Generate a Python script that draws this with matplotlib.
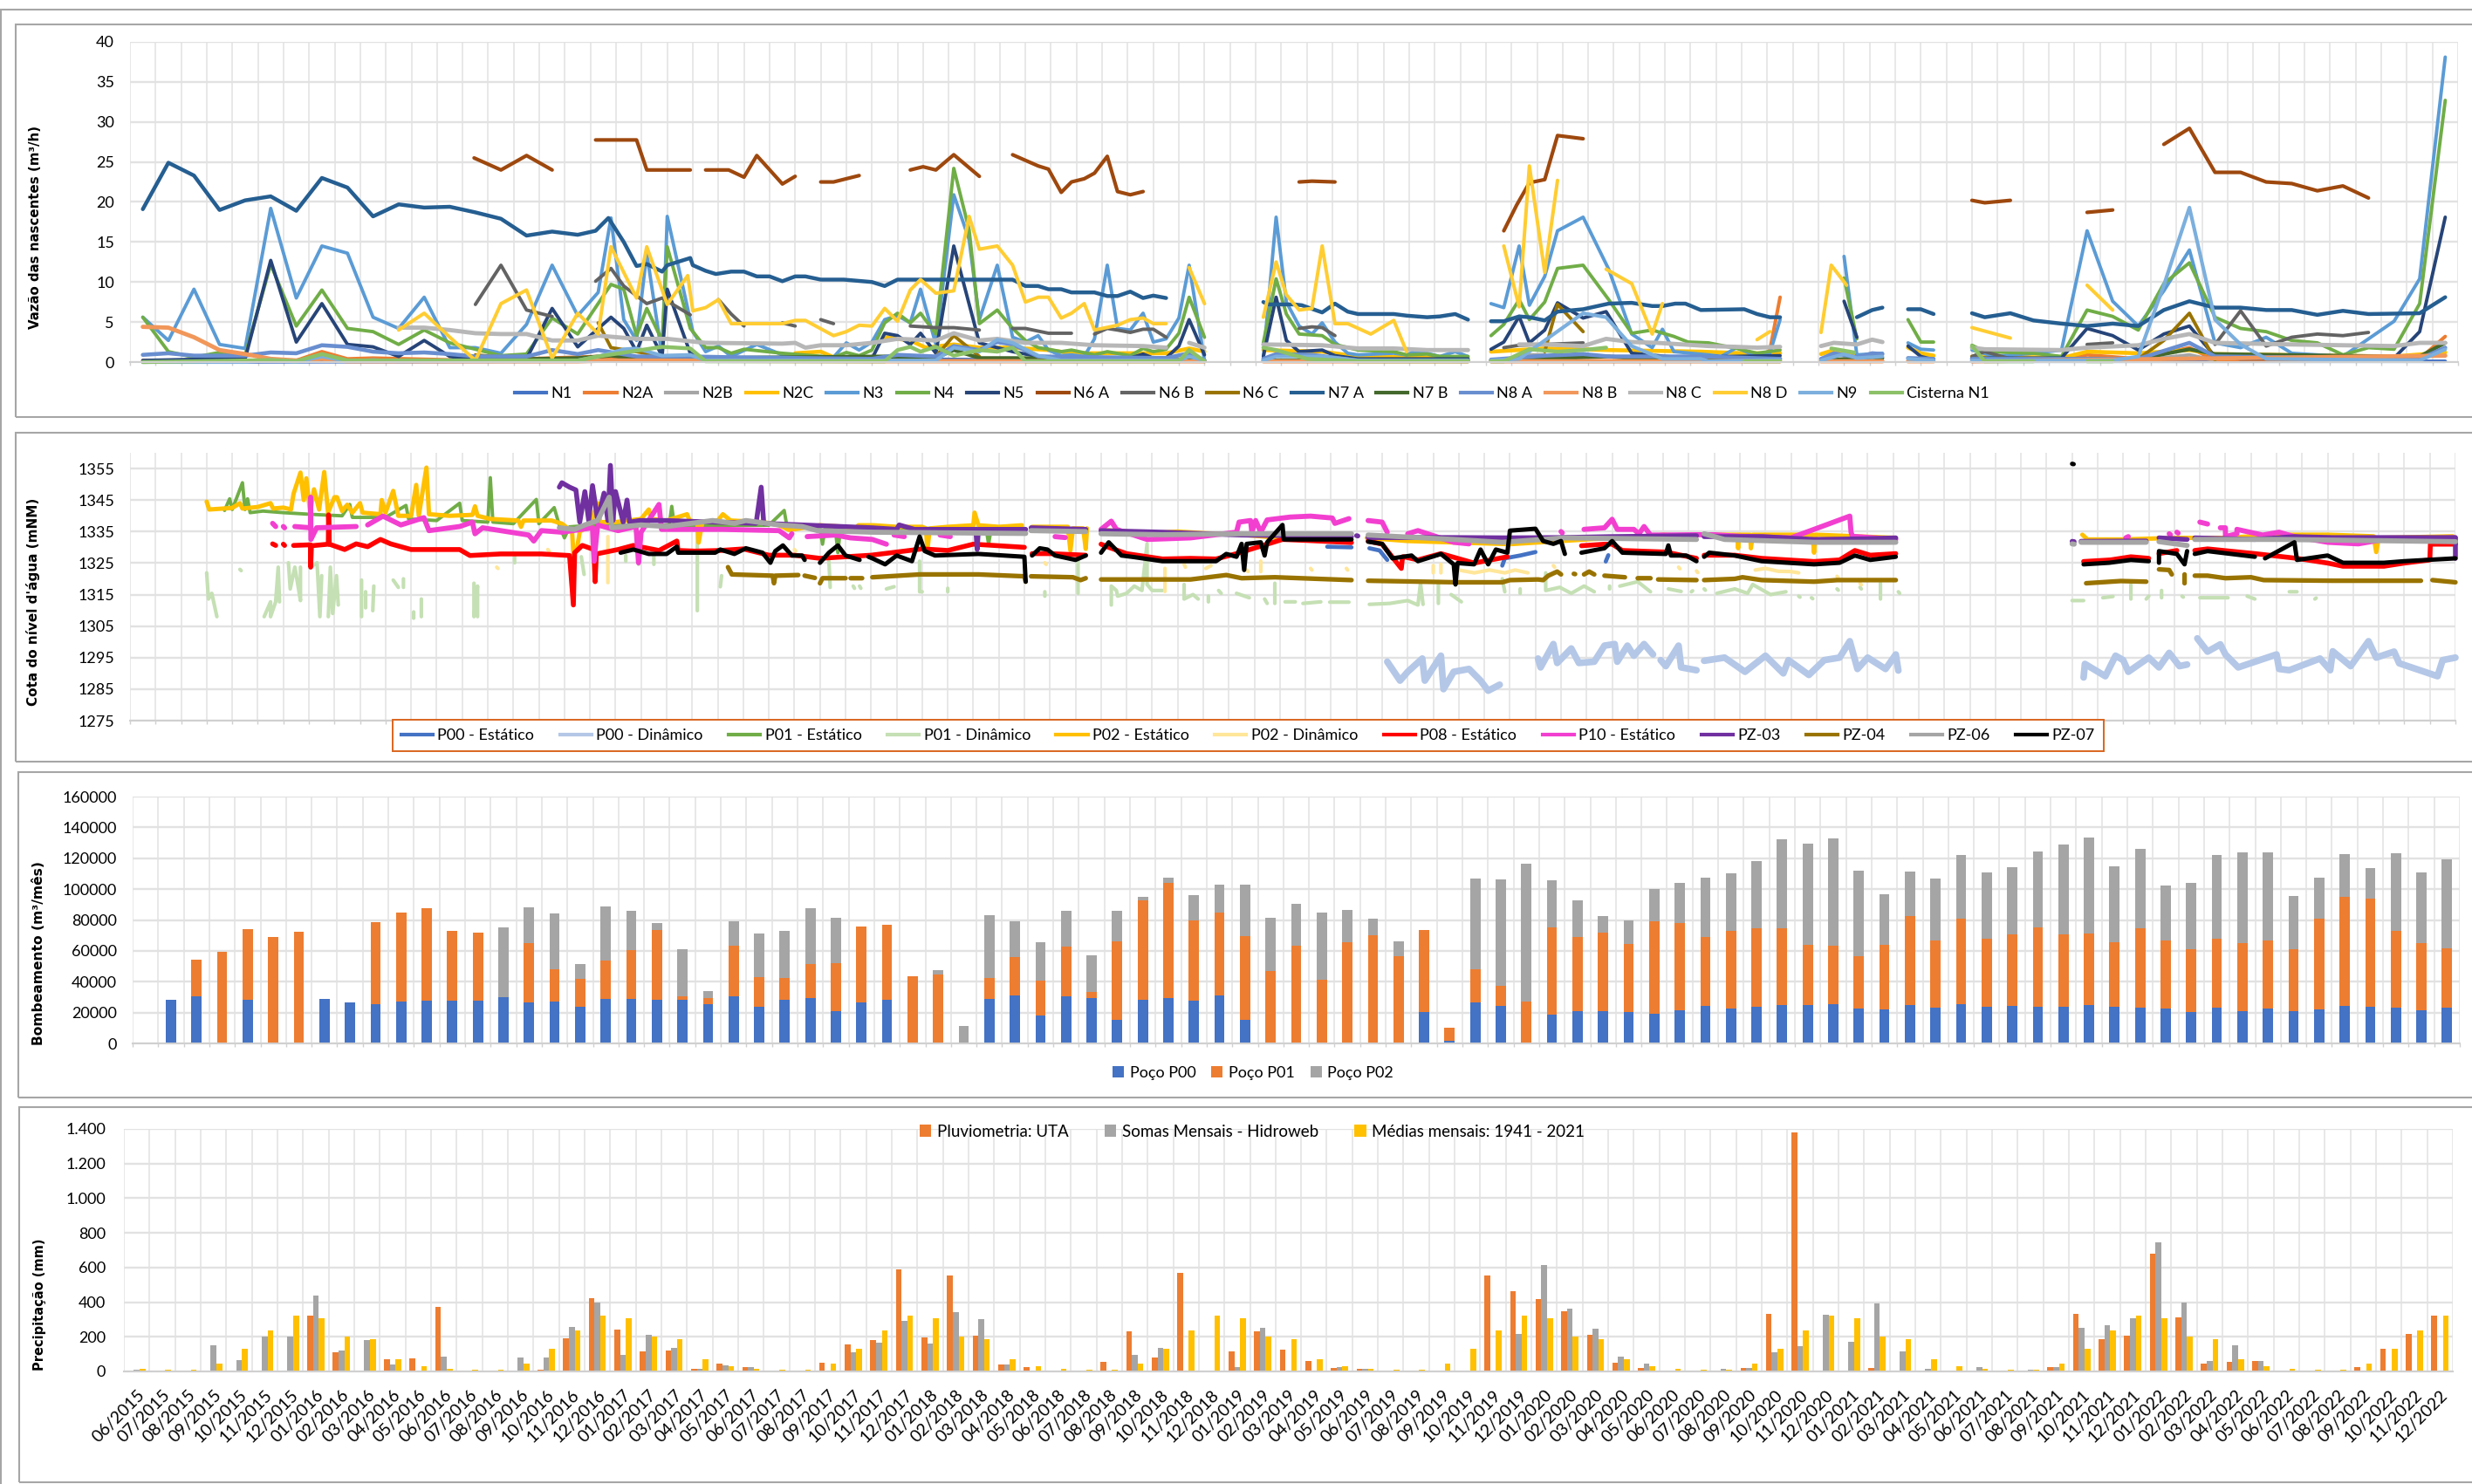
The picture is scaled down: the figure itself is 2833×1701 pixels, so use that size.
import numpy as np
import matplotlib
matplotlib.use("Agg")
import matplotlib.pyplot as plt
from matplotlib.patches import Rectangle
from matplotlib.lines import Line2D
from matplotlib.ticker import FuncFormatter

W, H = 2833, 1701
plt.rcParams['font.family'] = ['Lato', 'DejaVu Sans']

meses = []
for a in range(2015, 2023):
    for m in range(1, 13):
        if a > 2015 or m >= 6:
            meses.append(f"{m:02d}/{a}")

# ---- vazao das nascentes: x = mes (0 = 06/2015), None = falha
n7a_x = [0,1,2,3,4,5,6,7,8,9,10,11,12,13,14,15,16,17,17.7,18.2,18.8,19.3,19.7,20.3,20.5,21.4,21.5,22,22.4,23,23.5,24,24.5,25,25.5,25.9,26.5,27.4,28.5,29,29.5,34,34.5,35,35.4,35.9,36.3,37.2,37.7,38.1,38.6,39.1,39.5,40,None,43.8,44,45,45.3,46.1,46.6,47.1,47.5,48.9,49.4,50.2,50.7,51.3,51.8,None,52.7,53.2,53.8,54.2,54.8,55.3,56.3,57.3,58.2,59,59.4,59.9,60.3,60.9,62.6,63.1,63.6,64,None,67,67.6,68,None,69,69.5,70,None,71.5,72,73,73.9,75,76,77,78,79,80,81,82,83,84,85,86,87,89,90]
n7a_y = [19.1,24.9,23.3,19,20.2,20.7,18.9,23,21.8,18.2,19.7,19.3,19.4,18.7,17.9,15.8,16.3,15.9,16.4,18,15,12,12.25,11.3,12.1,13,12.1,11.4,11,11.3,11.3,10.7,10.7,10.1,10.7,10.7,10.3,10.3,10,9.5,10.3,10.3,9.5,9.5,9.1,9.1,8.7,8.7,8.25,8.25,8.8,8,8.3,8,None,7.5,7.2,7.2,7.1,6.2,7.3,6.3,6,6,5.8,5.6,5.7,6,5.3,None,5.1,5.1,5.7,5.6,5.2,6.3,6.6,7.3,7.4,7,7,7.3,7.3,6.5,6.6,6,5.6,5.6,None,5.6,6.5,6.8,None,6.6,6.6,6,None,6.1,5.6,6.1,5.2,4.8,4.5,4.8,4.5,6.5,7.6,6.8,6.8,6.5,6.5,5.9,6.4,6,6.1,8.1]

n6a_x = [12.95,14,15,16,None,17.7,19.3,19.7,21.4,None,22,22.9,23.5,24,25,25.5,None,26.5,27,28,None,30,30.5,31,31.7,32.7,None,34,35,35.4,35.9,36.3,36.8,37.2,37.7,38.1,38.6,39.1,None,45.2,45.7,46.6,None,53.2,53.7,54.2,54.8,55.3,56.3,None,71.5,72,73,None,76,77,None,79,80,81,82,83,84,85,86,87]
n6a_y = [25.5,24,25.8,24,None,27.75,27.75,24,24,None,24,24,23.1,25.8,22.25,23.2,None,22.5,22.5,23.3,None,24,24.4,24,25.9,23.2,None,25.9,24.5,24.1,21.2,22.5,22.9,23.6,25.7,21.3,20.9,21.3,None,22.5,22.6,22.5,None,16.4,19.6,22.4,22.8,28.3,27.9,None,20.2,19.9,20.2,None,18.7,19,None,27.2,29.2,23.7,23.7,22.5,22.3,21.4,22,20.5]

n3_x = [0,1,2,3,4,5,6,7,8,9,10,11,12,13,14,15,16,17,17.8,18.3,18.8,19.3,19.7,20.3,20.5,21.5,22,22.5,23,24,25,27,27.5,28,28.5,29,29.5,30,30.4,31,31.7,32.3,32.7,33.4,34,34.5,35,35.4,35.9,36.3,36.8,37.2,37.7,38.1,38.6,39.1,39.5,40,40.5,40.9,41.5,None,43.8,44.3,44.7,45.2,45.7,46.1,46.6,47.1,47.5,48.9,49.4,49.7,50.2,50.7,51.3,51.8,None,52.7,53.2,53.8,54.2,54.8,55.3,56.3,57.3,58.2,59,59.4,59.85,61.2,61.7,62.3,63.1,63.6,64,None,66.5,67,68,None,69,69.5,70,None,71.5,72.4,73.9,75,76,77,78,79,80,81,82,83,84,85,86,87,88,89,90]
n3_y = [5.6,2.7,9.1,2.2,1.7,19.2,8,14.5,13.6,5.6,4.2,8.1,1.8,1.8,1.1,4.7,12.1,5.8,8.7,18,5.3,2.7,13.6,.7,18.2,3.8,1.3,2,.7,2.2,.9,.6,2.4,1.5,2.5,5.3,5.8,4.9,9.1,2.2,20.9,15.3,5.3,12.1,3.1,2.5,3.3,1.5,.8,.9,.7,2.9,12.1,4.2,4,6.1,2.5,2.9,5.5,12.1,.2,None,.4,18.1,7.5,4.5,3.5,4.9,2.5,1.1,.9,1.1,.9,1.3,1.1,.7,1.3,.7,None,7.3,6.8,14.5,7.1,10.7,16.4,18.1,11.6,3.5,1.8,4.1,1.3,.9,.7,1.8,.7,1.1,5.3,None,13.2,.9,1.1,None,2.4,1.6,1.5,None,1.5,.7,1.1,1.5,16.4,7.6,4.5,8.9,14,2.4,1.8,3.1,1.1,.9,.7,2.9,5.1,10.4,38.1]

n4_x = [0,1,2,3,4,5,6,7,8,9,10,11,12,13,14,15,16,17,18.3,18.8,19.3,19.7,20.3,20.5,21.4,22,22.5,23,23.5,25,27,27.5,28,28.5,29,29.5,30,30.4,31,31.7,32.3,32.7,33.4,34,34.5,35,35.4,35.9,36.3,37.2,37.7,38.6,39.1,39.5,40,40.5,40.9,41.5,None,43.8,44.3,44.7,45.2,46.1,46.6,47.5,48.9,49.4,50.2,50.7,51.8,None,52.7,53.2,53.8,54.2,54.8,55.3,56.3,57.3,58.2,59,59.85,60.4,61.2,62.3,63.1,64,None,66.5,67,None,69,69.5,70,None,71.5,72,73.9,75,76,77,78,79,80,81,82,83,84,85,86,87,88,89,90]
n4_y = [5.6,1.3,.6,1.2,.9,12.2,4.5,9,4.2,3.8,2.2,4,2.4,1.6,.8,1,5.5,3.5,9.7,9.1,3.3,6.7,2.7,14.4,4.2,1.8,1.8,1.1,1.6,1.1,.6,1.2,.8,1.5,4.9,6.1,4.9,6.1,3.5,24.2,16.5,4.8,6.5,4.2,2.7,1.8,1.6,1.3,1.5,.9,1.3,.8,1.7,1.3,1.6,3.6,8.1,3.1,None,2.4,10.4,6,3.5,3.3,2.2,1.5,1.3,.9,1,.7,.7,None,3.3,4.7,7.8,5.3,7.5,11.7,12.1,7.8,3.6,4,3.2,2.5,2.4,1.7,1.1,1.5,None,10.5,2.9,None,5.3,2.5,2.5,None,2.1,1.3,1.1,.7,6.5,5.7,4,9.8,12.4,5.6,4.2,3.8,2.7,2.4,.9,1.8,1.6,7.3,32.7]

n5_x = [0,3,4,5,6,7,8,9,10,11,12,13,15,16,17,18.3,18.8,19.3,19.7,20.3,20.5,21.4,22,25,27,28,28.5,29,29.5,30,30.4,31,31.7,32.7,33.4,34,35,37.2,38.6,39.1,39.5,40,40.5,40.9,41.5,None,43.8,44.3,44.7,45.2,46.1,46.6,47.5,51.8,None,52.7,53.2,53.8,54.2,54.8,55.3,56.3,57.2,58.2,59.9,64,None,66.5,67,None,69,69.5,70,None,71.5,75,76,77,78,79,80,81,82,88,89,90]
n5_y = [.2,.4,.4,12.7,2.5,7.3,2.2,1.9,.7,2.7,.7,.3,.4,6.7,1.9,5.6,4.2,1.3,4.6,.7,9.1,1.1,.4,.5,.6,.4,.4,3.6,3.3,2.2,3.6,1.1,14.5,2.4,1.8,1.3,.7,.5,.5,1,.5,.5,2,5.3,.9,None,.7,8.1,2.7,1.3,1.5,.8,.4,.4,None,1.6,2.5,5.7,2.4,4,7.4,5.5,6.3,1.1,.6,.8,None,7.6,3.1,None,2,.7,.3,None,.5,.5,4.2,3.3,1.5,3.5,4.5,.7,.4,.5,3.8,18.1]

n8d_x = [10,11,12,13,14,15,16,17,17.8,18.3,19.3,19.7,20.5,21.3,21.5,22,22.5,23,25,25.5,25.9,27,27.5,28,28.5,29,29.5,30,30.4,31,31.7,32.3,32.7,33.4,34,34.5,35,35.4,35.9,36.3,36.8,37.2,38.1,38.6,39.1,39.5,40,None,40.9,41.5,None,43.8,44.3,44.7,45.2,45.7,46.1,46.6,47.1,48,48.9,49.4,None,53.2,53.8,54.2,54.8,55.3,None,57.2,58.2,59,59.4,None,63.1,63.6,None,65.6,66,66.6,None,71.5,73,None,76,77]
n8d_y = [4,6.1,3.1,.2,7.3,9,.5,6.1,3.5,14.4,8,14.4,7.2,10.8,6.4,6.8,7.8,4.8,4.8,5.2,5.2,3.3,3.8,4.6,4.5,6.7,5.1,9,10.3,8.6,8.9,18.2,14.1,14.5,12.1,7.5,8.1,8.1,5.5,6.1,7.3,4,4.6,5.3,5.5,4.8,4.8,None,11.8,7.3,None,5.6,12.5,8.4,6.5,6.7,14.5,4.8,4.8,3.5,5.2,1.3,None,14.5,6.9,24.5,11.2,22.7,None,11.6,9.8,3.5,7.3,None,2.8,3.8,None,3.7,12.1,9.6,None,4.3,3,None,9.6,6.5]

n6b_x = [13,14,15,16,None,17.7,18.3,18.8,19.7,20.3,21.4,None,22.5,23,23.5,None,25,25.5,None,26.5,27,None,30,31,31.7,32.7,None,34,34.5,35.4,36.3,None,37.2,37.7,38.1,38.6,39.1,39.5,40,None,45.2,45.7,46.1,46.6,None,53.2,53.8,54.8,56.3,None,71.5,72,73,None,76,77,None,81,82,83,84,85,86,87]
n6b_y = [7.2,12.1,6.5,5.7,None,10.1,11.7,9.5,7.3,8,5.9,None,7.8,6,4.5,None,4.9,4.5,None,5.3,4.8,None,4.5,4.3,4.3,4,None,4.2,4.2,3.6,3.6,None,3.5,4.2,4,3.7,4.1,4.1,3.1,None,4.2,4.4,4.3,3.3,None,1.8,2.1,2.2,2.4,None,.7,1.3,.4,None,2.2,2.4,None,2.2,6.4,2,3.1,3.5,3.3,3.7]

n8c_x = [10,11,12,13,14,15,16,17,17.8,19.3,20.5,22,25,25.5,25.9,26.5,27.5,28.5,29.5,31,31.7,32.7,33.4,34.5,35.9,37.2,39.1,40,None,40.9,41.5,None,43.8,46.1,47.5,48.9,50.2,51.8,None,53.8,54.8,56.3,57.2,58.2,59.2,61.2,62.3,63.1,64,None,65.6,66.1,67,67.6,68,None,71.5,72,75,76,78,79,80,81,84,86,88,89,90]
n8c_y = [4.3,4.3,4,3.6,3.5,3.5,2.7,2.7,3.3,2.9,2.9,2.4,2.3,2.4,1.8,2.1,2.1,2.4,2.9,2.7,3.6,2.7,2.9,2.4,2.4,2.1,2,1.8,None,2.4,1.8,None,2.2,2.1,1.7,1.7,1.5,1.5,None,2.2,2.2,2,2.9,2.5,2.4,2,1.9,1.8,1.9,None,2,2.4,2.2,2.8,2.5,None,1.8,1.6,1.5,1.8,2.1,2.9,3.5,2.4,2.2,2.1,2,2.4,2.4]

n8a_x = [0,1,2,4,5,6,7,8,9,10,11,12,13,15,16,17,17.8,19.3,21.4,23,28.5,29.5,31,31.7,32.7,33.4,34,35,40,40.9,41.5,None,43.8,44.3,45.7,47.5,51.8,None,52.7,54.8,56.3,57.3,60.9,64,None,65.6,66.1,67,67.6,68,None,69,70,None,71.5,78,80,81,89,90]
n8a_y = [.9,1.1,.8,.8,1.2,1.1,2.1,1.9,1.3,1.1,1.2,1,.7,.7,1.5,1,1.5,.7,.7,.6,.4,.9,.7,2,1.5,2.5,2.2,.7,.5,1.1,.2,None,.4,1,.9,.2,.2,None,.3,.8,1,.7,.7,.4,None,.4,1.1,.6,1.1,1,None,.5,.4,None,.4,.4,2.4,.7,.4,1.8]

n7b_x = [13,17,18.3,19.3,21.4,29,31,31.7,32.7,34,40,41.5,None,43.8,51.8,None,52.7,55.4,57.3,59,64,None,65.6,67.6,68,None,71.5,78,80,81,88,89,90]
n7b_y = [.25,.5,.8,.4,.5,.7,.5,1.5,.5,.5,.3,.2,None,.2,.25,None,.25,.5,.7,.3,.4,None,.2,.6,.5,None,.4,.4,1.6,1,.7,.7,2.4]

n6c_x = [13,14,None,17.8,18.3,19.3,20.3,None,31,31.7,32.7,None,54.8,55.3,56.3,None,78,79,80,81]
n6c_y = [.9,.6,None,4.9,1.8,1.3,.7,None,.7,3.3,.7,None,1.3,7.2,3.8,None,.4,2.7,6.1,.25]

n2a_x = [0,6,7,8,9,13,17.8,19.3,41.5,None,43.8,51.8,None,52.7,63.1,63.6,64,None,71.5,75,76,78,80,81,89,90]
n2a_y = [.2,.2,1.3,.4,.5,.2,.7,.2,.1,None,.1,.1,None,.1,.2,1.5,8.1,None,.1,.2,.9,.4,1.8,.25,.4,3.2]

n8b_x = [0,1,2,3,4,5,6,7,8,17,18.3,28.5,41.5,None,43.8,51.8,None,52.7,64,None,65.6,68,None,69,70,None,71.5,90]
n8b_y = [4.4,4.3,3.1,1.5,1,.4,.2,.4,.1,.1,.2,.1,.1,None,.1,.1,None,.1,.1,None,.1,.1,None,.1,.1,None,.1,.8]

n9_x = [0,4,5,6,7,8,9,10,17,17.8,18.8,19.3,20.3,21.4,22,28.5,31,31.7,32.7,33.4,34,35,35.9,40.5,40.9,41.5,None,43.8,44.3,46.1,47.5,51.8,None,52.7,53.8,54.8,56.3,57.2,58.2,59.4,60.9,61.2,64,None,65.6,66.5,67,68,None,69,70,None,71.5,77,78,79,80,81,82,83,89,90]
n9_y = [0,0,.25,0,.7,.1,.25,.1,.2,.7,1.6,1.7,.8,.9,.2,.2,.2,1.8,1.3,2.8,2.4,.8,.2,.2,.7,.2,None,.2,.7,.7,.2,.2,None,.2,.4,2.7,6.1,5.6,2,.4,.4,.1,.25,None,.2,1,.5,.7,None,.4,.2,None,.2,.2,.7,9.6,19.3,5.3,2.2,.4,.2,1.6]

cisterna_x = [0,5,6,7,8,17,17.8,20.3,21.4,22,29,29.5,30,30.4,31,31.7,32.7,33.4,34,34.5,40.5,40.9,41.5,None,43.8,44.3,45.5,47.5,51.8,None,52.7,53.2,54.2,55.3,56.3,57.2,None,62.6,64,None,66,66.9,None,71.5,72,73.9,None,76,77]
cisterna_y = [0,.25,.1,1,.2,.2,.7,1.9,1.7,.1,.1,1.5,1.9,1.3,1.9,.8,1.5,1.3,1.8,.1,.1,1.5,.1,None,1.8,1.5,.4,.1,.1,None,.1,.1,1.6,1.3,1.5,1.8,None,.1,.1,None,1.7,1.2,None,2,.1,.1,None,.1,.1]

n2b_x = [53.2,53.8,54.8,None,78,80,81]
n2b_y = [.1,.9,.9,None,.2,.9,.2]

n1_x = [0,17,22,28.5,41.5,None,43.8,51.8,None,52.7,64,None,71.5,90]
n1_y = [0,.1,.2,.4,.1,None,.2,.1,None,.1,.1,None,.1,.1]

n2c_x = [25.5,26.5,27,None,29,30,30.6,31.7,32.7,34,35.4,36.3,40,40.9,41.5,None,43.8,46.1,47.5,51.8,None,52.7,54.8,57.3,60.9,62.6,64,None,65.6,66.1,67,None,69,69.5,70,None,71.5,73.9,75,76,78,80,81,88,90]
n2c_y = [1.1,1.3,.6,None,3.1,2.7,1.8,2.2,1.8,1.8,1.5,1.1,1.1,1.7,1.3,None,1.5,1.3,.7,.5,None,1.3,1.7,1.5,1.3,1.1,1.1,None,1,1.5,.9,None,1.8,1.1,.8,None,.7,.6,.5,1.3,1.1,1.5,1,.7,1.2]

# ---- cota do nivel d'agua: x = meses desde a borda esquerda do eixo
p02e_x = [3,3.1,4,4.3,4.4,5,5.5,5.6,6,6.3,6.4,6.67,6.8,6.9,7.05,7.2,7.4,7.6,7.75,8,8.1,8.3,8.5,8.7,9,9.1,9.8,9.85,10,10.3,10.5,11,11.2,11.3,11.6,11.7,12.5,13.4,13.5,13.6,14.1,15.2,15.3,15.4,16.5,16.9,17.3,17.35,17.5,17.6,18,18.3,18.4,19,20,20.3,20.4,21,21.8,21.9,22.2,22.25,22.4,23,23.2,23.5,24.8,25.4,25.8,27,28,28.3,28.5,29.1,30,31,31.15,31.2,31.3,32,33,33.05,33.2,34,34.9,None,35.3,36.7,36.8,36.9,37.3,37.4,37.45,None,38,40,41,42,43.5,45,46,47.8,None,48.4,50,52,54,56,58,59,60,61,None,61.9,62.9,62.93,62.96,63.4,63.43,63.5,65.85,65.9,65.95,69.1,None,76.4,76.6,78,80,82,84,86,87.8,87.9,88,90.9]
p02e_y = [1344.5,1342,1342.5,1344,1342.3,1342.8,1344,1342.3,1342.6,1342,1347,1353.7,1345,1351.9,1341,1348.4,1342,1353.9,1341,1345.9,1345.9,1341.5,1343.5,1341,1344,1341,1340.5,1345,1341,1347.9,1340,1340,1349.8,1340,1355.3,1340.5,1340,1340.3,1343,1340,1339,1338.5,1336.5,1338.5,1338.5,1337.5,1335,1328,1330,1335,1337,1344,1338,1338,1339,1342,1339,1338.5,1340.5,1338.5,1338,1331.5,1338,1338.5,1340.5,1338.5,1338,1337,1335.5,1337,1336.5,1335,1337,1337,1336.5,1336.5,1336,1329,1336,1336.5,1337,1341,1337,1336.5,1337,None,1336.5,1336.5,1329,1336,1336,1329.5,1336,None,1335.5,1334.5,1335,1334.5,1334,1333,1332.5,1332.5,None,1333,1332,1331.5,1331,1332,1333,1333,1334,1333.5,None,1334,1334,1329.7,1334,1334,1329.7,1334,1334,1328.3,1334,1333,None,1334,1332.5,1332.5,1333,1333,1334,1334,1333.5,1328.5,1333,1333.5]

p00d_x = [49.2,49.7,50,50.57,50.67,51.3,51.4,51.8,52.4,52.85,53.15,53.6,None,55.1,55.2,55.7,55.85,56.4,56.7,57.3,57.7,58.1,58.2,58.6,58.85,59.25,59.6,None,59.9,60.1,60.6,60.7,61.3,None,61.6,62.4,63.2,64,64.7,64.9,65.7,66.3,66.9,67.3,67.6,68,68.7,69.1,69.2,None,76.45,76.5,77.3,77.7,78,78.2,79,79.4,79.8,80.2,80.5,None,80.9,81.3,81.8,82,82.5,84,84.1,84.5,85.7,86.1,86.2,86.9,87.6,87.9,88.6,88.8,90.3,90.5,91]
p00d_y = [1293.7,1287.7,1290.5,1294.7,1287.7,1295.6,1285,1290.5,1291.4,1287.7,1284.5,1286.4,None,1294.7,1291.9,1299.3,1293.3,1297.9,1293.3,1293.7,1298.8,1299.3,1293.7,1298.8,1295.6,1299.3,1296,None,1294.2,1292.3,1298.8,1291.9,1291,None,1294,1295,1290.5,1295.6,1290,1294.2,1289.5,1294.2,1295,1300.2,1291.4,1295,1291.4,1296,1290.9,None,1288.7,1293,1289.1,1295.6,1294.2,1290.5,1295,1291.9,1296.5,1292.3,1292.8,None,1301.1,1296.9,1299.2,1296,1291.9,1296,1291.4,1291,1294.7,1291,1297,1292.3,1300.2,1295,1296.9,1293.2,1289.1,1294.2,1295]

p01e_x = [3.7,3.9,4,4.4,4.5,4.6,4.7,5.2,6,7,8.3,8.6,8.7,10,10.8,10.9,12,12.9,13,14,14.1,14.2,15,15.9,16,16.6,16.8,17,17.2,18,20,21.1,21.2,21.3,23,25,25.6,25.7,26,27,27.1,27.2,27.6,27.7,27.8,29,33.5,33.6,33.7,35]
p01e_y = [1341.7,1345.4,1342,1350.5,1342,1345.4,1341,1341.5,1341,1340.5,1340,1343.6,1339.5,1339.5,1343.3,1339,1338.5,1344,1338.5,1338,1352.1,1338,1337.5,1345.2,1337.5,1342.6,1337,1333,1336.5,1337,1337,1337,1343,1337,1337,1337,1341.7,1337,1336.5,1336,1331,1336,1336,1328.3,1336,1336,1336,1331,1336,1336]

p01d_x = [3,3.07,3.2,3.4,None,4.3,4.35,None,5.25,5.4,5.5,5.5,5.7,5.8,5.85,None,6.2,6.27,6.45,6.55,6.67,6.67,None,7.06,7.32,7.43,7.5,None,7.76,7.84,7.93,8.08,8.15,None,9.06,9.06,None,9.22,9.22,None,9.54,9.5,None,10.3,10.5,None,10.7,10.7,None,11.1,11.1,None,11.4,11.4,None,13.46,13.46,13.6,13.6,None,15.05,15.05,None,17.66,17.77,None,19.4,19.4,None,19.9,19.9,None,20.5,20.5,None,22.2,22.2,None,23.15,23.1,None,27.35,27.4,None,28.3,28.35,None,28.55,28.6,None,29.6,29.9,None,30.9,30.9,31,None,32,32,None,35.8,35.8,None,37.1,37.1,None,38.4,38.4,38.6,38.65,39,39.3,39.6,39.8,39.8,40,40.4,None,41.25,41.25,41.6,41.8,None,42.2,42.2,None,42.6,42.7,None,43.3,43.8,None,44.4,44.5,None,44.8,44.8,None,45.2,45.6,None,45.9,46.6,None,46.95,47.7,None,48.5,49.3,50,50.4,50.5,50.6,None,51.2,51.2,None,51.7,52.1,None,53.7,53.8,None,54.4,54.4,None,55.4,55.4,55.95,56.4,56.9,57.3,None,57.9,57.9,None,58.3,59,59.5,None,60.2,60.7,None,61.1,61.15,None,61.6,61.65,None,62.1,62.8,63.3,63.5,64.2,64.8,None,65.3,65.35,None,65.8,65.85,None,66.8,66.85,None,67.7,67.75,None,68.5,68.5,None,69.2,69.25,None,76,76.45,None,77.2,77.6,None,78.3,78.3,None,78.9,79,None,79.5,79.5,None,80.3,80.35,None,81,82.1,None,82.85,83.15,None,84.5,84.8,None,85.5,85.55]
p01d_y = [1321.9,1313.6,1315.4,1308,None,1323,1322.6,None,1308,1310.8,1312.7,1308,1312.7,1323.7,1312.7,None,1325.1,1316.8,1323.7,1319,1313.1,1323.7,None,1323.7,1325.1,1308,1321,None,1308,1323.7,1309,1321,1311.7,None,1319.6,1308,None,1315.9,1310.8,None,1317.7,1309.9,None,1319.6,1317.3,None,1320,1317.3,None,1309.5,1307.5,None,1313.6,1308,None,1318.6,1308,1317.7,1308,None,1327.4,1325.1,None,1327,1321.4,None,1327.4,1325.6,None,1333.9,1324.6,None,1327.4,1324.6,None,1334.8,1309.9,None,1321,1317.5,None,1325.6,1317.3,None,1317.7,1317,None,1317.7,1317,None,1316.8,1317.5,None,1325.6,1315.9,1315.9,None,1317,1315.9,None,1315.9,1314.5,None,1327.4,1315.4,None,1311.7,1317.7,1316.3,1314.5,1315.4,1317.7,1316.3,1331.1,1318.2,1316.3,1316.3,None,1318.2,1313.6,1315,1313.6,None,1314.5,1312.7,None,1316.3,1315.4,None,1315.4,1314,None,1313.6,1312.2,None,1318.6,1312.2,None,1312.7,1312.7,None,1312.2,1312.7,None,1312.6,1312.6,None,1311.9,1312.2,1313.1,1311.7,1318.6,1311.9,None,1319.1,1312.2,None,1315,1312.7,None,1320,1315.9,None,1316.8,1315.4,None,1321.9,1316.3,1317.3,1315.4,1317.7,1315.9,None,1317.7,1316.8,None,1317.7,1319.1,1315.9,None,1316.8,1316,None,1315.9,1316.2,None,1316.8,1316.4,None,1315.4,1316.8,1315.4,1318.2,1315,1315.9,None,1314.5,1314.2,None,1314,1313.7,None,1316.8,1316.4,None,1317.3,1316.8,None,1318.6,1313.6,None,1315.9,1315.4,None,1313.1,1313.1,None,1314,1314.4,None,1318.2,1313.6,None,1313.6,1314.5,None,1316.3,1314,None,1314.5,1314.2,None,1314,1314,None,1314.5,1313.6,None,1315.9,1315.9,None,1313.6,1313.9]

p02d_x = [14.35,14.4,None,16.35,16.4,None,18.7,18.7,None,26,26.05,None,35.8,35.85,None,40.5,40.5,None,41.25,41.3,None,42.1,42.3,None,43.7,43.75,None,44.25,44.25,None,46.2,46.25,None,47.6,47.65,None,51,51,None,51.3,51.3,None,52,52.6,53.2,53.8,54.2,54.7,None,55.7,55.75,None,60.6,60.65,None,61.3,61.35,None,63.6,64,64.5,65,65.3,None,66.8,66.85,None,67.7,67.75]
p02d_y = [1323.7,1323.3,None,1329.3,1328.8,None,1333.4,1318.8,None,1329.3,1328.8,None,1325.1,1324.6,None,1323.3,1316,None,1324.6,1323.7,None,1323.3,1324.2,None,1322.8,1322.3,None,1325.6,1322.3,None,1323.3,1322.8,None,1323.3,1322.8,None,1324.2,1321.9,None,1324.6,1321.9,None,1322.8,1321.9,1322.8,1321.9,1322.8,1321.9,None,1324.2,1323.7,None,1323.7,1323.2,None,1322.5,1322,None,1322.8,1323.3,1322.4,1322.3,1321.9,None,1320.8,1320.3,None,1318.6,1318.1]

p08_x = [5.58,5.7,None,6,6.05,None,6.4,7.06,7.07,7.1,7.76,7.77,7.8,8.4,8.85,9.3,9.8,10.2,11,12.9,13.3,14.5,16.1,17.2,17.35,17.4,17.7,18.15,18.2,18.25,19.1,19.7,20.7,21.4,21.45,22.1,23.1,24,25,26,27,28,29,30,31,32,33,34,35,None,35.3,36,37.4,None,38,38.3,39,40.4,41.5,42.5,43.3,44.5,45.1,46,47.8,None,48.45,49,49.75,49.8,49.85,50.4,51.3,52.6,53.9,None,56.8,57.7,58,58.4,60.1,61.3,None,61.6,62.8,63.85,65.9,66.9,67.5,68.1,69.1,None,76.45,77.5,78.3,79,None,79.4,80.1,None,80.8,81.3,83.15,84.8,86,86.6,88.2,89,90,90.02,91]
p08_y = [1331.1,1330.6,None,1331,1330.6,None,1330.6,1330.8,1323.7,1330.5,1331,1340.3,1331,1329.3,1331.1,1330.2,1332.5,1331.1,1329.3,1329.3,1327.4,1327.9,1327.9,1327.4,1311.7,1328.3,1330.6,1329.3,1319.1,1327.9,1329.3,1330.6,1329,1332,1329,1328.8,1329,1329.5,1327.5,1327.5,1326.5,1327,1327.5,1328.5,1329.5,1329,1331,1330.5,1330,None,1328,1328,1327.5,None,1331,1330,1328,1326.3,1326.5,1326.3,1328,1331,1332.5,1332.2,1331.5,None,1332,1331,1323.3,1327,1327,1326,1328,1325,1327,None,1330.5,1331,1331,1329,1328.5,1326.5,None,1327.5,1327.5,1326.5,1325.5,1326,1329,1327.5,1328,None,1325.5,1326,1327,1326.5,None,1328,1329,None,1329,1329.5,1328,1326.5,1325,1324,1324,1325,1326,1331,1331]

p10_x = [5.58,5.7,None,6,6.05,None,6.45,7.06,7.07,7.08,7.3,8.85,None,9.3,9.9,10.6,11.5,11.7,12.9,13.4,13.5,13.8,15.6,15.8,16.1,16.9,18.1,18.16,18.3,19.1,19.8,19.9,20,20.7,20.8,23.2,25.4,25.8,25.9,None,26.5,27.6,28.2,29.05,29.6,None,29.9,30.3,None,31.7,32.1,None,36.2,36.6,None,38,38.4,38.6,39.8,41.5,43.3,43.4,43.85,43.9,44.05,44.25,44.5,45.4,46.2,47.05,47.15,47.7,None,48.45,49,49.2,None,50,50.4,51.8,52.4,None,56,56.05,None,56.9,57.7,58,58.2,58.85,59.05,59.25,59.5,60.1,61.3,62,63,65,67.3,67.35,67.4,69.1,None,78.1,78.2,None,79.8,79.85,None,80.1,80.15,None,81,81.3,None,81.8,82,82,82.45,82.45,83.46,84.1,84.7,86,87.2,88.2,91]
p10_y = [1337.6,1336.6,None,1336.6,1336.2,None,1336.6,1336.2,1345.9,1332.5,1336.2,1336.6,None,1337.1,1339.9,1337.1,1339.4,1335.3,1336.6,1338,1334.3,1336.2,1333.9,1332,1335.3,1334.8,1336.2,1325.6,1337.1,1335.3,1336.6,1325.1,1334.8,1343.6,1335.7,1335.7,1335.3,1333,1334.3,None,1333.4,1333.9,1333,1332.5,1331,None,1333.9,1333.4,None,1333.9,1333.4,None,1333.4,1333.1,None,1335.7,1338.3,1335.7,1332.5,1333,1334.8,1338,1338.5,1334.8,1338.5,1334.8,1338.7,1339.6,1339.9,1339.3,1337.6,1339.1,None,1338.5,1338,1334.8,None,1334.3,1335.3,1331.6,1331.1,None,1335,1334.6,None,1335.7,1336.2,1338.9,1335.7,1335.7,1334.3,1336.6,1333.9,1333.9,1334,1334,1333.5,1333,1339.9,1334.8,1333.5,1332.5,None,1333,1333.4,None,1334.3,1334,None,1334.8,1334.5,None,1338,1337.4,None,1336.2,1336.2,1333.4,1334.3,1335.7,1333.9,1334.8,1333.4,1331.6,1331.1,1332.5,1333]

pz03_x = [16.8,16.9,17.2,17.45,17.6,17.8,17.95,18.1,18.3,18.55,18.7,18.8,18.9,19,19.3,19.45,19.55,19.95,21,22.8,24.5,24.7,24.8,26.3,29.05,30,30.1,30.7,33.1,33.15,33.2,35.05,None,35.26,37.4,None,38,40.4,43.5,45.6,47.8,None,48,48.05,None,48.45,49.7,51.8,53.9,56,58,61.3,None,61.6,63.9,65.9,67.9,69.1,None,76,76.08,None,76.35,78.9,None,79.4,80.5,None,80.8,83.15,84.7,86.2,89.65,91,91]
pz03_y = [1349.1,1350.5,1349.1,1348.2,1338,1347.7,1338.5,1349.6,1338.5,1347.2,1338.5,1356,1338.5,1347.7,1338,1345,1338,1338.5,1338.5,1338,1337.6,1349.1,1337.6,1337.1,1336.2,1335.7,1337.1,1335.7,1335.7,1329.3,1335.7,1335.7,None,1336.2,1335.7,None,1335.3,1334.8,1333.9,1333.7,1333.4,None,1333.7,1333.6,None,1333.1,1333.1,1333.1,1333,1333.1,1333.4,1333.7,None,1333.4,1333.4,1332.5,1332.7,1333,None,1331.9,1331.8,None,1331.9,1332,None,1333,1332.5,None,1333,1332.5,1333.4,1333.1,1333.1,1333.1,1326.5]

pz06_x = [16.8,17.4,17.8,18.3,18.75,18.85,20,21,22.8,23.65,24.1,25.4,26.3,26.9,29.05,35.05,None,35.26,37.4,None,38,40.4,43.5,47.8,None,48.45,51.8,53.7,56.15,61.3,None,61.6,62.4,65.9,69.1,None,76,76.08,None,76.35,78.9,None,79.4,80.5,None,80.8,84.2,91]
pz06_y = [1336.2,1335.7,1337.1,1338.5,1345.9,1336.2,1337.1,1336.6,1338.5,1337.6,1338.5,1337.1,1336.6,1335.3,1334.8,1334.4,None,1335.3,1335,None,1334.3,1334,1334.3,1334.3,None,1333.9,1332.5,1331.6,1333,1332.5,None,1334.3,1332.5,1331.6,1331.6,None,1331.1,1331,None,1331.6,1331.6,None,1331.8,1330.6,None,1332.5,1332.5,1331.8]

pz04_x = [23.4,23.55,25.15,25.2,25.25,26.15,None,26.4,26.8,None,27,27.1,28,None,28.2,28.65,None,29.05,30.1,30.9,33.2,35,35.05,None,35.26,36.9,37.2,37.4,None,38,41.5,42.9,43.5,44.8,47.8,None,48.45,51.9,53.7,54,55.1,55.3,55.5,55.85,56,None,56.5,56.55,None,56.9,57.1,57.3,None,57.7,58.5,None,59,59.5,None,59.8,61.3,None,61.6,62.8,63.1,63.85,65.9,66.8,69.1,None,76.55,77.9,78.9,None,79.4,79.8,79.9,None,80.4,80.4,None,80.8,81.3,82,83,83.5,86.2,89.65,None,90.1,91]
pz04_y = [1323.7,1321.4,1321,1318.6,1321,1321.2,None,1321,1320.3,None,1318.6,1320.2,1320.2,None,1320.2,1320.2,None,1320.5,1321,1321.4,1321.4,1320.8,1319.1,None,1320.8,1320.5,1319.6,1320.2,None,1319.8,1319.8,1321.2,1320.2,1320.5,1319.6,None,1319.4,1318.9,1318.9,1319.6,1319.8,1319.6,1321,1322.3,1321.4,None,1321.6,1321.5,None,1321.4,1322.3,1321.4,None,1321,1320.5,None,1320.2,1320.2,None,1319.8,1319.6,None,1319.6,1320,1320.5,1319.6,1319.1,1319.6,1319.6,None,1318.6,1319.3,1319.1,None,1323,1322.8,1321.4,None,1321.4,1318.6,None,1321,1321,1320.2,1320.5,1319.6,1319.4,1319.4,None,1319.6,1318.9]

pz07_x = [19.2,19.7,20.3,21,21.4,21.45,22.9,23.1,23.65,24.1,24.75,25.06,25.25,25.55,25.9,26.3,26.4,None,27,27.35,27.7,28,28.55,None,28.9,29.05,29.55,30,30.6,30.9,31.1,31.5,33.2,35,35.05,None,35.3,35.6,35.9,36.2,37,37.4,None,38,38.3,38.8,39.2,40.4,42.5,42.9,43.3,43.5,43.6,43.7,44.25,44.4,44.5,45.1,45.15,47.8,None,48.45,49,49.4,50.15,50.4,51.3,51.8,51.87,51.95,52.6,52.85,53.15,53.45,53.9,54,55,55.3,55.7,56,56.15,None,56.8,57.7,58,58.4,60.1,60.2,60.3,60.9,61.3,None,61.6,61.8,62.8,63.85,65.9,66.9,67.5,68.1,69.1,None,76,76.06,None,76.45,77.45,78.3,79,None,79.4,79.4,80.1,80.4,80.5,None,80.8,81.3,83.15,None,83.55,84.7,84.8,86,86.6,88.2,89,91]
pz07_y = [1328.3,1329.3,1327.9,1327.9,1330.2,1328.3,1328.3,1329.3,1327.9,1329.7,1328.3,1325.1,1328.8,1330.6,1327.4,1327.4,1326,None,1325.1,1328.3,1330.6,1327.4,1326,None,1327,1326.5,1324.6,1327.4,1325.6,1333.4,1328.8,1327.4,1327.9,1327,1319.1,None,1327.4,1329.7,1329.3,1327.4,1326,1327.4,None,1328.3,1331.6,1327.4,1327,1325.6,1325.6,1327.9,1327,1331.1,1322.8,1331.1,1331.6,1327.4,1331.6,1337.1,1332.5,1332.5,None,1331.8,1331.1,1326.5,1327.4,1325.6,1327.9,1324.6,1318.2,1325,1324.6,1329.3,1324.6,1329.3,1328.3,1335.3,1335.9,1332,1331.1,1332,1327.9,None,1328.3,1329.7,1332,1328.3,1327.9,1330.6,1327.4,1327.4,1325.6,None,1327,1328.3,1327.4,1325.6,1324.6,1325.1,1327.4,1326,1327,None,1356.5,1356.4,None,1324.6,1325.1,1326,1325.6,None,1325.1,1328.8,1327.9,1324.6,1328.8,None,1327.9,1328.8,1327,None,1326.5,1331.6,1326,1327.4,1325.1,1325.1,1325.6,1326.5]

p00e_x = [46.85,47.8,None,48.5,48.9,49.2,None,53.7,53.8,54.4,55,None,57.75,57.85]
p00e_y = [1330.2,1330,None,1329.7,1329,1326,None,1324.2,1326.5,1327.4,1328.5,None,1325.5,1327.5]

# ---- bombeamento (m3/mes), de 06/2015 a 12/2022
poco_p00 = [0,28160,30430,0,28160,0,0,28920,26460,25700,27030,27590,27590,27780,29860,26460,27030,23630,28920,28730,28160,28160,25330,30430,24000,28540,29300,20790,26460,28540,0,0,0,28920,31000,18140,30430,29300,15120,28350,29480,27590,31000,15310,0,0,0,0,0,0,20600,1700,26460,24190,0,18520,20790,20980,20220,19090,21550,24380,22490,23630,24760,24760,25330,22490,21920,24760,23060,25330,23630,24380,23630,23630,24760,23630,23060,22680,20410,23060,20980,22490,20980,22110,24190,23630,23060,21550,23060]
poco_p01 = [0,0,23810,59350,46120,69170,72200,0,0,52920,58020,59910,45180,44230,0,38740,21170,18140,24760,31560,45550,2460,4340,32890,18710,13990,22300,31370,49330,48190,43470,44600,0,13610,24760,22680,32510,3780,50840,64450,74660,52170,54050,54050,47060,63500,41010,65770,70300,56700,53110,8500,21740,13230,27220,56890,48380,51030,44040,60100,56700,44790,50650,51030,49900,39120,37990,34210,42150,57830,43850,55560,44220,46500,51590,46870,46490,41950,51600,44230,40830,44790,43850,44230,40260,58590,70880,70300,49890,43470,38550]
poco_p02 = [0,0,0,0,0,0,0,0,0,0,0,0,0,0,45550,23250,36280,9450,35340,25510,4160,30240,4160,15870,28730,30610,35900,29490,0,0,0,2650,11150,40440,23430,24950,23240,23810,20030,2080,3020,16440,17580,33640,34210,27030,43660,20600,10780,9450,0,0,58770,68980,89200,30050,23820,10390,15690,20980,25510,37990,36860,43650,57840,65400,69740,55190,32510,28730,40060,41390,43090,43470,49140,58590,62370,49140,51210,35150,42710,54240,58780,57080,34580,26460,27780,19470,50280,45920,57840]

# ---- precipitacao (mm)
pluviometria = [0,0,0,0,0,0,0,320,110,0,72,78,372,0,0,0,12,192,425,240,118,122,14,47,27,0,0,52,155,180,590,195,553,207,38,24,0,0,55,234,82,570,0,116,232,126,59,20,13,0,6,0,0,555,464,420,345,213,52,18,0,0,0,22,330,1378,0,0,22,2,7,0,0,0,0,27,333,184,205,679,313,45,55,59,0,0,0,27,133,218,323]
somas_hidroweb = [8,0,0,153,67,200,200,440,123,180,42,0,85,0,0,80,83,259,400,98,210,138,15,37,27,0,0,0,113,168,290,163,344,304,38,0,0,0,0,98,135,0,0,27,254,0,0,23,13,0,0,0,0,0,218,616,365,247,84,44,0,0,15,20,111,147,325,173,395,117,13,0,27,0,8,27,254,269,308,745,397,60,153,62,0,0,0,0,0,0,0]
medias_mensais = [15,8,12,47,130,236,320,309,202,184,68,30,15,8,12,47,130,236,320,309,202,184,68,30,15,8,12,47,130,236,320,309,202,184,68,30,15,8,12,47,130,236,320,309,202,184,68,30,15,8,12,47,130,236,320,309,202,184,68,30,15,8,12,47,130,236,320,309,202,184,68,30,15,8,12,47,130,236,320,309,202,184,68,30,15,8,12,47,130,236,320]

AZUL, LARANJA, CINZA, AMARELO = '#4472C4', '#ED7D31', '#A5A5A5', '#FFC000'
GRADE = '#E2E2E2'


def eixo(x0, x1, y0, y1):
    ax = fig.add_axes([x0 / W, 1 - y1 / H, (x1 - x0) / W, (y1 - y0) / H])
    for s in ['top', 'right', 'left']:
        ax.spines[s].set_visible(False)
    ax.spines['bottom'].set_color('#D0D0D0')
    ax.spines['bottom'].set_linewidth(1.5)
    ax.set_axisbelow(True)
    ax.set_xlim(0, 91)
    ax.set_xticks(range(92))
    ax.set_xticklabels([])
    ax.tick_params(axis='x', length=3, width=1, color='#D0D0D0')
    ax.grid(axis='x', color=GRADE, lw=1.1)
    ax.grid(axis='y', color=GRADE, lw=1.7)
    return ax


def moldura(x0, y0, x1, y1):
    fig.add_artist(Rectangle((x0 / W, 1 - y1 / H), (x1 - x0) / W, (y1 - y0) / H,
                             transform=fig.transFigure, fill=False, ec='#A6A6A6', lw=1.5))


def linha(ax, xs, ys, cor, lw=2.6):
    ax.plot(np.array(xs, dtype=float), np.array(ys, dtype=float), color=cor, lw=lw,
            solid_capstyle='round', solid_joinstyle='round', clip_on=False)


fig = plt.figure(figsize=(W / 100, H / 100), dpi=100)
fig.patch.set_facecolor('white')

moldura(1, 11, W + 20, 1720)
moldura(18, 28, W + 20, 478)
moldura(18, 496, W + 20, 873)
moldura(21, 885, W + 20, 1258)
moldura(22, 1269, W + 20, 1699)

# painel 1
ax1 = eixo(149, 2817, 48, 415)
ax1.set_ylim(0, 40)
ax1.set_yticks(range(0, 41, 5))
ax1.tick_params(axis='y', length=0, pad=13, labelsize=13)
series_n = [
    ('N1', n1_x, n1_y, AZUL, 2.9), ('N2A', n2a_x, n2a_y, LARANJA, 2.9),
    ('N2B', n2b_x, n2b_y, CINZA, 2.9), ('N2C', n2c_x, n2c_y, AMARELO, 3.3),
    ('N3', n3_x, n3_y, '#5B9BD5', 2.8), ('N4', n4_x, n4_y, '#70AD47', 2.8),
    ('N5', n5_x, n5_y, '#264478', 2.8), ('N6 A', n6a_x, n6a_y, '#9E480E', 3.0),
    ('N6 B', n6b_x, n6b_y, '#636363', 2.8), ('N6 C', n6c_x, n6c_y, '#997300', 2.8),
    ('N7 A', n7a_x, n7a_y, '#255E91', 3.2), ('N7 B', n7b_x, n7b_y, '#43682B', 3.1),
    ('N8 A', n8a_x, n8a_y, '#698ED0', 3.3), ('N8 B', n8b_x, n8b_y, '#F1975A', 3.5),
    ('N8 C', n8c_x, n8c_y, '#B7B7B7', 3.5), ('N8 D', n8d_x, n8d_y, '#FFCD33', 2.9),
    ('N9', n9_x, n9_y, '#7CAFDD', 3.0), ('Cisterna N1', cisterna_x, cisterna_y, '#8CC168', 3.2),
]
meio = 0.5
for nome, xs, ys, cor, lw in series_n:
    xx = [None if v is None else v + meio for v in xs]
    linha(ax1, xx, ys, cor, lw)
alcas = [Line2D([], [], color=c, lw=3) for _, _, _, c, _ in series_n]
ax1.legend(alcas, [s[0] for s in series_n], loc='center', mode='expand', ncol=18, frameon=False,
           bbox_to_anchor=(590 / W, 1 - 470 / H, 1690 / W, 38 / H), bbox_transform=fig.transFigure,
           fontsize=13, handlelength=2.0, handletextpad=0.3, columnspacing=0.6, borderaxespad=0, borderpad=0)
fig.text(41 / W, 1 - 260 / H, 'Vazão das nascentes (m³/h)', rotation=90, ha='center', va='center',
         family='DejaVu Sans', fontweight='bold', fontsize=10.8)

# painel 2
ax2 = eixo(149, 2814, 519, 826)
ax2.set_ylim(1275, 1360)
ax2.set_yticks(range(1275, 1356, 10))
ax2.tick_params(axis='y', length=0, pad=13, labelsize=13)
series_p = [
    ('P00 - Estático', p00e_x, p00e_y, AZUL, 3.4), ('P00 - Dinâmico', p00d_x, p00d_y, '#B4C7E7', 5.5),
    ('P01 - Estático', p01e_x, p01e_y, '#70AD47', 2.8), ('P01 - Dinâmico', p01d_x, p01d_y, '#C5E0B4', 3.0),
    ('P02 - Estático', p02e_x, p02e_y, AMARELO, 3.6), ('P02 - Dinâmico', p02d_x, p02d_y, '#FFE699', 3.0),
    ('P08 - Estático', p08_x, p08_y, '#FF0000', 4.0), ('P10 - Estático', p10_x, p10_y, '#F23FD0', 4.2),
    ('PZ-03', pz03_x, pz03_y, '#7030A0', 4.0), ('PZ-04', pz04_x, pz04_y, '#997300', 3.8),
    ('PZ-06', pz06_x, pz06_y, '#A5A5A5', 4.2), ('PZ-07', pz07_x, pz07_y, '#000000', 3.6),
]
for nome, xs, ys, cor, lw in series_p:
    linha(ax2, xs, ys, cor, lw)
alcas = [Line2D([], [], color=c, lw=3) for _, _, _, c, _ in series_p]
leg2 = ax2.legend(alcas, [s[0] for s in series_p], loc='center', mode='expand', ncol=12,
                  bbox_to_anchor=(450 / W, 1 - 861 / H, 1961 / W, 36 / H), bbox_transform=fig.transFigure,
                  fontsize=13, handlelength=2.0, handletextpad=0.3, columnspacing=0.8, borderaxespad=0,
                  borderpad=0.55, fancybox=False, framealpha=1, edgecolor='#D9651E')
leg2.get_frame().set_linewidth(1.4)
leg2.set_zorder(10)
fig.text(38 / W, 1 - 690 / H, "Cota do nível d'água (mNM)", rotation=90, ha='center', va='center',
         family='DejaVu Sans', fontweight='bold', fontsize=11)

# painel 3
ax3 = eixo(152, 2819, 913, 1196)
ax3.set_ylim(0, 160000)
ax3.set_yticks(range(0, 160001, 20000))
ax3.tick_params(axis='y', length=0, pad=13, labelsize=13)
pos = np.arange(91) + 0.5
p00 = np.array(poco_p00)
p01 = np.array(poco_p01)
p02 = np.array(poco_p02)
ax3.bar(pos, p00, width=0.4, color=AZUL, label='Poço P00')
ax3.bar(pos, p01, width=0.4, bottom=p00, color=LARANJA, label='Poço P01')
ax3.bar(pos, p02, width=0.4, bottom=p00 + p01, color=CINZA, label='Poço P02')
ax3.legend(loc='center', ncol=3, frameon=False, bbox_to_anchor=(1436 / W, 1 - 1230 / H),
           bbox_transform=fig.transFigure, fontsize=13, handlelength=0.72, handleheight=0.72,
           handletextpad=0.35, columnspacing=1.0, borderaxespad=0)
fig.text(45 / W, 1 - 1092 / H, 'Bombeamento (m³/mês)', rotation=90, ha='center', va='center',
         family='DejaVu Sans', fontweight='bold', fontsize=11.2)

# painel 4
ax4 = eixo(142, 2811, 1294, 1572)
ax4.set_ylim(0, 1400)
ax4.set_yticks(range(0, 1401, 200))
ax4.yaxis.set_major_formatter(FuncFormatter(lambda v, p: f"{int(v):,}".replace(',', '.')))
ax4.tick_params(axis='y', length=0, pad=15, labelsize=13)
ax4.tick_params(axis='x', length=0)
larg = 0.225
ax4.bar(pos - larg, pluviometria, width=larg, color=LARANJA, label='Pluviometria: UTA')
ax4.bar(pos, somas_hidroweb, width=larg, color=CINZA, label='Somas Mensais - Hidroweb')
ax4.bar(pos + larg, medias_mensais, width=larg, color=AMARELO, label='Médias mensais: 1941 - 2021')
ax4.set_xticks(pos, minor=True)
ax4.set_xticklabels(meses, minor=True, rotation=45, ha='right', rotation_mode='anchor', fontsize=14)
ax4.tick_params(axis='x', which='minor', length=0, pad=13)
ax4.legend(loc='center', ncol=3, frameon=False, bbox_to_anchor=(1435 / W, 1 - 1297 / H),
           bbox_transform=fig.transFigure, fontsize=13.5, handlelength=0.72, handleheight=0.72,
           handletextpad=0.35, columnspacing=2.2, borderaxespad=0)
fig.text(46 / W, 1 - 1495 / H, 'Precipitação (mm)', rotation=90, ha='center', va='center',
         family='DejaVu Sans', fontweight='bold', fontsize=10.5)

fig.savefig('out.png', dpi=100, facecolor='white')
